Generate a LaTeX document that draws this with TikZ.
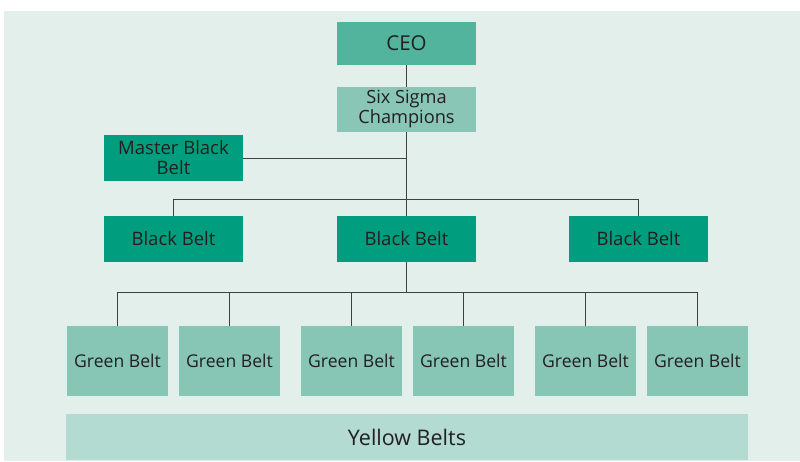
\documentclass[tikz,border=0pt]{standalone}
\usepackage{fontspec}
\setmainfont{Open Sans}
\definecolor{bgc}{HTML}{E3EFEB}
\definecolor{ceoc}{HTML}{52B49D}
\definecolor{champc}{HTML}{89C6B5}
\definecolor{darkc}{HTML}{009E7E}
\definecolor{greenc}{HTML}{87C5B4}
\definecolor{yellowc}{HTML}{B4DBD1}
\definecolor{txtc}{HTML}{231F20}
\definecolor{linec}{HTML}{404040}
\begin{document}
\begin{tikzpicture}[x=1pt,y=-1pt,
  box/.style={minimum width=139pt,minimum height=46pt,inner sep=0pt,align=center,
    text=txtc,font=\fontsize{18.5}{20}\selectfont},
  ceobox/.style={box,fill=ceoc,minimum height=43pt,font=\fontsize{20.5}{22}\selectfont},
  champbox/.style={box,fill=champc,minimum height=45pt,font=\fontsize{18.2}{20}\selectfont},
  darkbox/.style={box,fill=darkc},
  gbox/.style={box,fill=greenc,minimum width=101pt,minimum height=70pt,font=\fontsize{17.6}{20}\selectfont},
  ybox/.style={box,fill=yellowc,minimum width=682pt,minimum height=46pt,font=\fontsize{21.5}{24}\selectfont},
  conn/.style={draw=linec,line width=1pt}]
\useasboundingbox (0,0) rectangle (800,461);
\fill[bgc] (4,11) rectangle (800,461);
\node[ceobox] (ceo) at (406.5,43.5) {CEO};
\node[champbox] (ch) at (406.5,109.5) {Six Sigma\\Champions};
\node[darkbox] (mbb) at (173.5,158) {Master Black\\Belt};
\node[darkbox] (bbl) at (173.5,239) {Black Belt};
\node[darkbox] (bbm) at (406.5,239) {Black Belt};
\node[darkbox] (bbr) at (638.5,239) {Black Belt};
\node[gbox] (g1) at (117.5,361) {Green Belt};
\node[gbox] (g2) at (229.5,361) {Green Belt};
\node[gbox] (g3) at (351.5,361) {Green Belt};
\node[gbox] (g4) at (463.5,361) {Green Belt};
\node[gbox] (g5) at (585.5,361) {Green Belt};
\node[gbox] (g6) at (697.5,361) {Green Belt};
\node[ybox] (yb) at (407,437) {Yellow Belts};
\coordinate (j1) at (406.5,199);
\coordinate (j2) at (406.5,292);
\draw[conn] (ceo.south) -- (ch.north);
\draw[conn] (ch.south) -- (bbm.north);
\draw[conn] (mbb.east) -- (mbb.east -| ch.south);
\draw[conn] (bbl.north) -- (bbl.north |- j1) -- (bbr.north |- j1) -- (bbr.north);
\draw[conn] (bbm.south) -- (j2);
\draw[conn] (g1.north) -- (g1.north |- j2) -- (g6.north |- j2) -- (g6.north);
\foreach \g in {g2,g3,g4,g5} \draw[conn] (\g.north) -- (\g.north |- j2);
\end{tikzpicture}
\end{document}
